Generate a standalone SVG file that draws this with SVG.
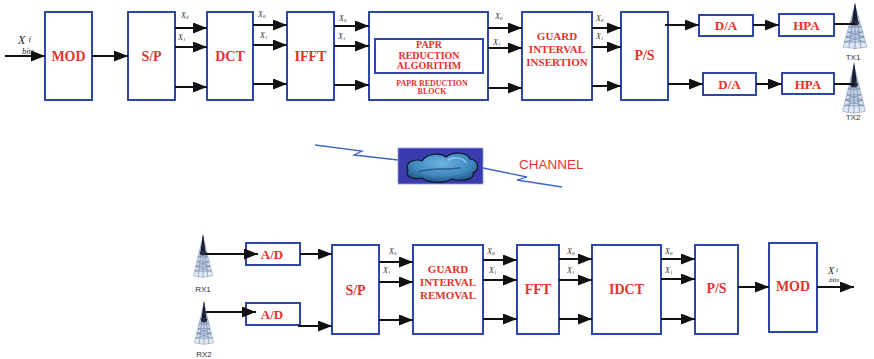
<svg xmlns="http://www.w3.org/2000/svg" xmlns:xlink="http://www.w3.org/1999/xlink" width="874" height="359" viewBox="0 0 874 359">
  <style>
    .box { fill: #ffffff; stroke: #2e46a8; stroke-width: 2; }
    .lbl { font-family: "Liberation Serif", "Times New Roman", serif; font-weight: bold; fill: #e5322d; text-anchor: middle; }
    .wire { stroke: #111111; stroke-width: 2; fill: none; }
    .arrow { stroke: #111111; stroke-width: 2; fill: none; marker-end: url(#head); }
    .sub { font-family: "Liberation Serif", "Times New Roman", serif; font-style: italic; font-size: 8px; fill: #333333; }
    .ital { font-family: "Liberation Serif", "Times New Roman", serif; font-style: italic; fill: #222222; }
    .ant { font-family: "Liberation Sans", Arial, sans-serif; font-size: 8px; fill: #333333; text-anchor: middle; }
    .radio { stroke: #3a68c6; stroke-width: 1.3; fill: none; }
  </style>
  <defs>
    <marker id="head" markerUnits="userSpaceOnUse" markerWidth="15" markerHeight="12" refX="14" refY="5.5" orient="auto">
      <path d="M0,0 L14,5.5 L0,11 Z" fill="#111111"/>
    </marker>
    <linearGradient id="towerFill" x1="0" y1="0" x2="0" y2="1">
      <stop offset="0" stop-color="#9fb0cc"/>
      <stop offset="1" stop-color="#e6edf7"/>
    </linearGradient>
    <radialGradient id="cloudFill" cx="0.5" cy="0.35" r="0.7">
      <stop offset="0" stop-color="#6fb6e2"/>
      <stop offset="0.6" stop-color="#3f87bd"/>
      <stop offset="1" stop-color="#1d4a78"/>
    </radialGradient>
    <!-- lattice antenna tower, apex at 0,0 and base at y=42 -->
    <g id="tower">
      <path d="M0,0 L12,42 Q0,45 -12,42 Z" fill="url(#towerFill)" stroke="#8a9cbc" stroke-width="0.6"/>
      <g stroke="#6f86ad" stroke-width="0.7" fill="none">
        <path d="M-3.4,12 L3.4,12 M-4.9,17 L4.9,17 M-6.3,22 L6.3,22 M-7.7,27 L7.7,27 M-9.1,32 L9.1,32 M-10.6,37 L10.6,37"/>
        <path d="M0,0 L-6,43 M0,0 L6,43 M0,0 L0,44"/>
        <path d="M-4.9,17 L6.3,22 M4.9,17 L-6.3,22 M-7.7,27 L9.1,32 M7.7,27 L-9.1,32 M-9.1,32 L10.6,37 M9.1,32 L-10.6,37"/>
      </g>
      <path d="M0,-3 L3,16 L-3,16 Z" fill="#1b1d2e"/>
      <ellipse cx="0" cy="18" rx="4" ry="2.5" fill="#2a2d44"/>
    </g>
  </defs>

  <!-- transmitter chain -->
  <g id="tx-input-label">
    <text class="ital" x="18" y="43.5" font-size="12">X</text>
    <text class="ital" x="28.5" y="41.5" font-size="9">i</text>
    <text class="ital" x="22" y="54" font-size="8.5" fill="#333">bits</text>
  </g>
  <g id="tx-mod"><rect class="box" x="45" y="12" width="47" height="88"/><text class="lbl" x="68.5" y="61" font-size="14">MOD</text></g>
  <g id="tx-sp"><rect class="box" x="128" y="12" width="47" height="88"/><text class="lbl" x="151.5" y="61" font-size="14">S/P</text></g>
  <g id="tx-dct"><rect class="box" x="207" y="12" width="46" height="88"/><text class="lbl" x="230" y="61" font-size="14">DCT</text></g>
  <g id="tx-ifft"><rect class="box" x="287" y="12" width="47" height="88"/><text class="lbl" x="310.5" y="61" font-size="14">IFFT</text></g>
  <g id="tx-papr">
    <rect class="box" x="369" y="12" width="119" height="88"/>
    <rect class="box" x="375" y="39" width="108" height="34"/>
    <text class="lbl" x="429" y="48" font-size="10">PAPR</text>
    <text class="lbl" x="429" y="59" font-size="10">REDUCTION</text>
    <text class="lbl" x="429" y="69" font-size="10">ALGORITHM</text>
    <text class="lbl" x="432" y="86" font-size="8">PAPR REDUCTION</text>
    <text class="lbl" x="432" y="94" font-size="8">BLOCK</text>
  </g>
  <g id="tx-guard">
    <rect class="box" x="522" y="12" width="70" height="88"/>
    <text class="lbl" x="557" y="40" font-size="11">GUARD</text>
    <text class="lbl" x="557" y="53" font-size="11">INTERVAL</text>
    <text class="lbl" x="557" y="66" font-size="11">INSERTION</text>
  </g>
  <g id="tx-ps"><rect class="box" x="621" y="12" width="47" height="88"/><text class="lbl" x="644.5" y="60" font-size="14">P/S</text></g>
  <g id="tx-da1"><rect class="box" x="699" y="15" width="54" height="21"/><text class="lbl" x="726" y="30" font-size="13">D/A</text></g>
  <g id="tx-hpa1"><rect class="box" x="779" y="14" width="55" height="22"/><text class="lbl" x="806.5" y="30" font-size="13">HPA</text></g>
  <g id="tx-da2"><rect class="box" x="703" y="73" width="53" height="22"/><text class="lbl" x="729.5" y="89" font-size="13">D/A</text></g>
  <g id="tx-hpa2"><rect class="box" x="782" y="73" width="52" height="21"/><text class="lbl" x="808" y="89" font-size="13">HPA</text></g>
  <g id="tx1">
    <use xlink:href="#tower" transform="translate(855,5)"/>
    <text class="ant" x="853" y="60">TX1</text>
  </g>
  <g id="tx2">
    <use xlink:href="#tower" transform="translate(854,65) scale(0.95,1.1)"/>
    <text class="ant" x="853" y="120">TX2</text>
  </g>

  <!-- channel -->
  <g id="channel">
    <path class="radio" d="M315,145 L362,151 L354,155 L398,160"/>
    <path class="radio" d="M483,168 L527,177 L517,180 L562,187"/>
    <rect x="398" y="148" width="85" height="36" fill="#3a3cae" stroke="#9a9ad6" stroke-width="0.8"/>
    <g stroke="#0e1428" stroke-width="1.2" fill="url(#cloudFill)">
      <path d="M408,170 C404,163 414,158 422,161 C426,154 440,152 446,157 C452,151 468,152 470,159 C479,160 480,170 473,173 C476,179 462,182 452,179 C444,184 428,183 422,178 C412,180 404,176 408,170 Z"/>
    </g>
    <path d="M418,172 C430,168 445,170 460,168" stroke="#2a5f92" stroke-width="1.5" fill="none"/>
    <path d="M448,160 C455,156 464,158 466,163" stroke="#8cc8ee" stroke-width="1.5" fill="none"/>
    <text x="519" y="169" font-family="Liberation Sans, Arial, sans-serif" font-size="13.5" fill="#e0392f">CHANNEL</text>
  </g>

  <!-- receiver chain -->
  <g id="rx1">
    <use xlink:href="#tower" transform="translate(203,236) scale(0.8,0.95)"/>
    <text class="ant" x="203" y="292">RX1</text>
  </g>
  <g id="rx2">
    <use xlink:href="#tower" transform="translate(204,303) scale(0.8,0.95)"/>
    <text class="ant" x="204" y="357">RX2</text>
  </g>
  <g id="rx-ad1"><rect class="box" x="246" y="243" width="54" height="22"/><text class="lbl" x="272" y="259" font-size="13">A/D</text></g>
  <g id="rx-ad2"><rect class="box" x="246" y="303" width="54" height="22"/><text class="lbl" x="272" y="319" font-size="13">A/D</text></g>
  <g id="rx-sp"><rect class="box" x="332" y="245" width="47" height="89"/><text class="lbl" x="355.5" y="295" font-size="14">S/P</text></g>
  <g id="rx-guard">
    <rect class="box" x="413" y="245" width="70" height="89"/>
    <text class="lbl" x="448" y="273" font-size="11">GUARD</text>
    <text class="lbl" x="448" y="286" font-size="11">INTERVAL</text>
    <text class="lbl" x="448" y="299" font-size="11">REMOVAL</text>
  </g>
  <g id="rx-fft"><rect class="box" x="517" y="245" width="42" height="89"/><text class="lbl" x="538" y="294" font-size="14">FFT</text></g>
  <g id="rx-idct"><rect class="box" x="592" y="245" width="69" height="89"/><text class="lbl" x="626.5" y="294" font-size="14">IDCT</text></g>
  <g id="rx-ps"><rect class="box" x="695" y="245" width="43" height="89"/><text class="lbl" x="716.5" y="293" font-size="14">P/S</text></g>
  <g id="rx-mod"><rect class="box" x="769" y="243" width="48" height="89"/><text class="lbl" x="793" y="291" font-size="14">MOD</text></g>
  <g id="rx-output-label">
    <text class="ital" x="828" y="274" font-size="10">X</text>
    <text class="ital" x="836" y="272" font-size="7">i</text>
    <text class="ital" x="829" y="282" font-size="7" fill="#333">bits</text>
  </g>

  <!-- connectors -->
  <g id="connectors">
    <path class="arrow" d="M5,56 H45"/>
    <path class="arrow" d="M92,56 H128"/>
    <path class="arrow" d="M175,28 H207"/><path class="arrow" d="M175,47 H207"/><path class="arrow" d="M175,87 H207"/>
    <path class="arrow" d="M253,25 H287"/><path class="arrow" d="M253,45 H287"/><path class="arrow" d="M253,84 H287"/>
    <path class="arrow" d="M334,26 H369"/><path class="arrow" d="M334,46 H369"/><path class="arrow" d="M334,85 H369"/>
    <path class="arrow" d="M488,28 H522"/><path class="arrow" d="M488,48 H522"/><path class="arrow" d="M488,88 H522"/>
    <path class="arrow" d="M592,28 H621"/><path class="arrow" d="M592,47 H621"/><path class="arrow" d="M592,86 H621"/>
    <path class="arrow" d="M665,25 H699"/>
    <path class="arrow" d="M753,25 H779"/>
    <path class="wire" d="M834,24 H855"/>
    <path class="arrow" d="M668,84 H703"/>
    <path class="arrow" d="M756,84 H782"/>
    <path class="wire" d="M834,84 H855"/>

    <path class="arrow" d="M205,254 H258"/>
    <path class="arrow" d="M206,312 H256"/>
    <path class="arrow" d="M300,254 H332"/>
    <path class="arrow" d="M298,326 H332"/>
    <path class="arrow" d="M379,262 H413"/><path class="arrow" d="M379,282 H413"/><path class="arrow" d="M379,320 H413"/>
    <path class="arrow" d="M483,260 H517"/><path class="arrow" d="M483,280 H517"/><path class="arrow" d="M483,319 H517"/>
    <path class="arrow" d="M559,259 H592"/><path class="arrow" d="M559,280 H592"/><path class="arrow" d="M559,319 H592"/>
    <path class="arrow" d="M661,259 H695"/><path class="arrow" d="M661,279 H695"/><path class="arrow" d="M661,319 H695"/>
    <path class="arrow" d="M738,287 H769"/>
    <path class="arrow" d="M817,287 H854"/>
  </g>

  <!-- subcarrier labels -->
  <g id="subcarrier-labels">
    <text class="sub" x="181" y="18">X<tspan font-size="5" dy="1">0</tspan></text>
    <text class="sub" x="178" y="40">X<tspan font-size="5" dy="1">1</tspan></text>
    <text class="sub" x="258" y="17">X<tspan font-size="5" dy="1">0</tspan></text>
    <text class="sub" x="260" y="38">X<tspan font-size="5" dy="1">1</tspan></text>
    <text class="sub" x="339" y="21">X<tspan font-size="5" dy="1">0</tspan></text>
    <text class="sub" x="338" y="39">X<tspan font-size="5" dy="1">1</tspan></text>
    <text class="sub" x="495" y="19">X<tspan font-size="5" dy="1">0</tspan></text>
    <text class="sub" x="493" y="45">X<tspan font-size="5" dy="1">1</tspan></text>
    <text class="sub" x="596" y="21">X<tspan font-size="5" dy="1">0</tspan></text>
    <text class="sub" x="596" y="39">X<tspan font-size="5" dy="1">1</tspan></text>

    <text class="sub" x="389" y="254">X<tspan font-size="5" dy="1">0</tspan></text>
    <text class="sub" x="383" y="273">X<tspan font-size="5" dy="1">1</tspan></text>
    <text class="sub" x="487" y="254">X<tspan font-size="5" dy="1">0</tspan></text>
    <text class="sub" x="489" y="273">X<tspan font-size="5" dy="1">1</tspan></text>
    <text class="sub" x="567" y="254">X<tspan font-size="5" dy="1">0</tspan></text>
    <text class="sub" x="567" y="273">X<tspan font-size="5" dy="1">1</tspan></text>
    <text class="sub" x="665" y="254">X<tspan font-size="5" dy="1">0</tspan></text>
    <text class="sub" x="665" y="273">X<tspan font-size="5" dy="1">1</tspan></text>
  </g>
</svg>
